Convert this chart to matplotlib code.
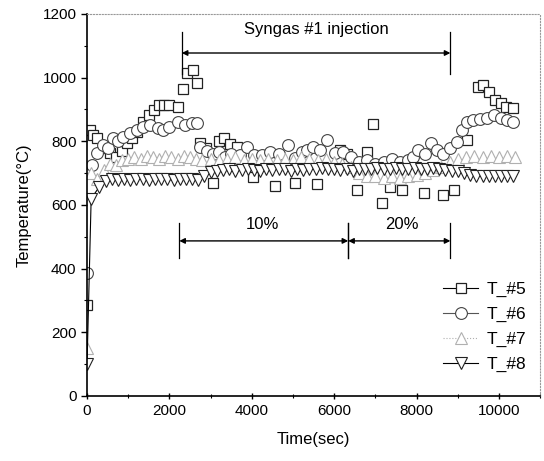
"""Syngas #1 injection: temperature history of T_#5 ~ T_#8."""
import matplotlib
matplotlib.use("Agg")
import matplotlib.pyplot as plt
from matplotlib.lines import Line2D
from matplotlib.ticker import MultipleLocator

plt.rcParams["font.family"] = ["Liberation Sans", "DejaVu Sans"]

# T_#5 (squares)
t5 = [0, 60, 150, 250, 400, 560, 700, 850, 970, 1100, 1215, 1360, 1500, 1620,
      1750, 1880, 2000, 2210, 2330, 2430, 2580, 2670, 2750, 2880, 3060, 3200,
      3330, 3480, 3640, 4030, 4570, 5050, 5590, 6150, 6300, 6560, 6800, 6950,
      7170, 7360, 7650, 8170, 8630, 8900, 9230, 9480, 9600, 9750, 9910, 10040,
      10160, 10350]
T5 = [285, 835, 820, 810, 780, 763, 751, 770, 795, 810, 830, 860, 883, 899,
      914, 914, 914, 908, 964, 1015, 1024, 983, 795, 780, 669, 800,
      810, 790, 783, 688, 660, 669, 666, 773, 760, 647, 767, 855,
      606, 657, 647, 638, 631, 647, 804, 971, 977, 955, 930, 920,
      908, 905]

# T_#6 (circles)
t6 = [0, 120, 240, 390, 500, 630, 750, 870, 1040, 1210, 1360, 1530, 1720, 1850,
      2000, 2200, 2380, 2550, 2670, 2750, 2900, 3050, 3200, 3350, 3500, 3720,
      3890, 4050, 4250, 4450, 4650, 4880, 5050, 5220, 5350, 5490, 5660, 5830,
      6030, 6220, 6400, 6600, 6800, 7000, 7200, 7400, 7600, 7800, 7920, 8040,
      8200, 8340, 8500, 8650, 8820, 8990, 9110, 9230, 9380, 9550, 9720, 9870,
      10040, 10200, 10350]
T6 = [385, 726, 763, 789, 780, 811, 800, 814, 826, 836, 845, 851, 842, 836,
      845, 861, 851, 858, 858, 783, 770, 760, 765, 750, 760, 757,
      783, 757, 757, 767, 760, 789, 748, 767, 773, 783, 773, 804,
      763, 767, 750, 735, 740, 730, 735, 745, 735, 740, 751, 773,
      760, 795, 773, 760, 779, 798, 836, 861, 867, 870, 873, 883,
      873, 867, 861]

# T_#7 (triangles up)
t7 = [0, 100, 250, 400, 550, 700, 850, 1000, 1150, 1300, 1450, 1600, 1750,
      1900, 2050, 2200, 2350, 2500, 2650, 2800, 3000, 3200, 3400, 3600, 3800,
      4000, 4200, 4400, 4600, 4800, 5000, 5200, 5400, 5600, 5800, 6000, 6200,
      6400, 6600, 6800, 7000, 7200, 7400, 7600, 7800, 8000, 8200, 8400, 8600,
      8800, 9000, 9200, 9400, 9600, 9800, 10000, 10200, 10400]
T7 = [150, 700, 680, 710, 730, 725, 740, 745, 750, 745, 755, 750, 745,
      755, 750, 745, 755, 750, 745, 740, 745, 740, 745, 750, 740,
      745, 740, 745, 740, 745, 740, 750, 745, 740, 745, 735, 730,
      720, 700, 690, 690, 685, 690, 685, 690, 695, 700, 710, 720,
      735, 745, 750, 755, 750, 755, 750, 755, 750]

# T_#8 (triangles down)
t8 = [0, 100, 300, 450, 600, 750, 900, 1050, 1200, 1350, 1500, 1650, 1800,
      1950, 2100, 2250, 2400, 2550, 2700, 2850, 3000, 3150, 3300, 3450, 3600,
      3750, 3900, 4050, 4200, 4350, 4500, 4650, 4800, 4950, 5100, 5250, 5400,
      5550, 5700, 5850, 6000, 6150, 6300, 6450, 6600, 6750, 6900, 7050, 7200,
      7350, 7500, 7650, 7800, 7950, 8100, 8250, 8400, 8550, 8700, 8850, 9000,
      9150, 9300, 9450, 9600, 9750, 9900, 10050, 10200, 10350]
T8 = [100, 620, 657, 675, 680, 678, 680, 678, 680, 680, 678, 680, 682,
      680, 678, 680, 682, 680, 678, 690, 704, 708, 710, 712, 708,
      710, 712, 710, 706, 712, 710, 714, 712, 708, 712, 710, 714,
      712, 716, 712, 714, 710, 712, 708, 712, 714, 712, 716, 714,
      712, 716, 714, 712, 716, 714, 712, 716, 712, 710, 708, 705,
      700, 695, 692, 690, 692, 690, 692, 690, 692]

# bracket annotations (time in sec, temperature level)
INJ_START, INJ_END, SPLIT = 2300, 8820, 6340

STYLES = {
    "T_#5": dict(marker="s", color="black", ls="-", ms=7, mec="#222222", mew=0.9),
    "T_#6": dict(marker="o", color="#555555", ls="-", ms=8.5, mec="#444444", mew=0.8),
    "T_#7": dict(marker="^", color="#b0b0b0", ls=":", ms=8.5, mec="#b0b0b0", mew=0.8),
    "T_#8": dict(marker="v", color="black", ls="-", ms=8.5, mec="#222222", mew=0.8),
}


def bracket(ax, x0, x1, y, half):
    ax.annotate("", xy=(x0, y), xytext=(x1, y),
                arrowprops=dict(arrowstyle="<|-|>", color="black", lw=1.0,
                                mutation_scale=8, shrinkA=0, shrinkB=0))
    for x in (x0, x1):
        ax.plot([x, x], [y - half, y + half], color="black", lw=0.9)


def main() -> None:
    fig = plt.figure(figsize=(5.44, 4.61), dpi=100)
    ax = fig.add_axes([0.16, 0.141, 0.833, 0.829])

    series = [("T_#5", t5, T5), ("T_#6", t6, T6), ("T_#7", t7, T7), ("T_#8", t8, T8)]
    for name, t, T in series:
        st = STYLES[name]
        # only T_#8 shows a visible connecting line in the original
        ls = "-" if name == "T_#8" else "none"
        ax.plot(t, T, ls=ls, lw=0.8, marker=st["marker"], color=st["color"],
                ms=st["ms"], mfc="white", mec=st["mec"], mew=st["mew"])

    handles = [Line2D([], [], ls=STYLES[n]["ls"], lw=0.8, marker=STYLES[n]["marker"],
                      color=STYLES[n]["color"], ms=STYLES[n]["ms"], mfc="white",
                      mec=STYLES[n]["mec"], mew=STYLES[n]["mew"])
               for n, _, _ in series]

    bracket(ax, INJ_START, INJ_END, 1077, 65)
    ax.text((INJ_START + INJ_END) / 2, 1150, "Syngas #1 injection",
            ha="center", va="center", fontsize=12)
    bracket(ax, 2240, SPLIT, 487, 55)
    bracket(ax, SPLIT, INJ_END, 487, 55)
    ax.text(4250, 540, "10%", ha="center", va="center", fontsize=12)
    ax.text(7650, 540, "20%", ha="center", va="center", fontsize=12)

    ax.set_xlim(0, 11000)
    ax.set_ylim(0, 1200)
    ax.xaxis.set_major_locator(MultipleLocator(2000))
    ax.xaxis.set_minor_locator(MultipleLocator(1000))
    ax.yaxis.set_major_locator(MultipleLocator(200))
    ax.yaxis.set_minor_locator(MultipleLocator(100))
    ax.tick_params(which="major", direction="out", length=4, width=1,
                   labelsize=11)
    ax.tick_params(which="minor", direction="out", length=2.5, width=0.8)
    ax.tick_params(axis="x", which="both", direction="inout")

    for side in ("top", "right"):
        ax.spines[side].set_linestyle(":")
        ax.spines[side].set_color("#999999")
        ax.spines[side].set_linewidth(0.8)
    for side in ("left", "bottom"):
        ax.spines[side].set_linewidth(1.2)

    ax.set_xlabel("Time(sec)", fontsize=12, labelpad=10)
    ax.set_ylabel("Temperature(°C)", fontsize=12, labelpad=8)

    ax.legend(handles, [n for n, _, _ in series], loc="lower right",
              frameon=False, fontsize=12.5, handlelength=2.0,
              labelspacing=0.55, borderaxespad=0.0, handletextpad=0.5,
              bbox_to_anchor=(0.985, 0.045))

    fig.savefig("out.png", dpi=100)
    plt.close(fig)


if __name__ == "__main__":
    main()
